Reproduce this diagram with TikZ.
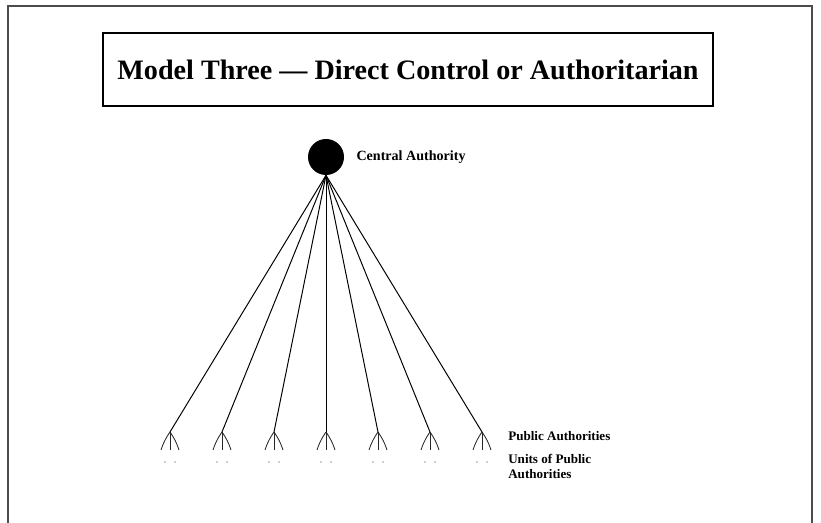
\documentclass[tikz,border=0pt]{standalone}
\usepackage{fontspec}
\setmainfont{Liberation Serif}
\usetikzlibrary{positioning}

\begin{document}
\begin{tikzpicture}[x=0.025cm,y=-0.025cm,
    label text/.style={font=\bfseries\fontsize{9.3}{10.7}\selectfont, inner sep=0pt, anchor=west, align=left},
    fan/.style={line width=0.6pt, black!85}]

  \useasboundingbox (0,0) rectangle (821,523);

  % outer frame
  \draw [line width=1.4pt, black!70] (8,530) -- (8,6) -- (812,6) -- (812,530);

  % title
  \node [draw, line width=1.1pt, minimum width=15.25cm, minimum height=1.825cm,
         font=\bfseries\fontsize{20}{22}\selectfont] (title) at (408,69.5)
        {Model Three --- Direct Control or Authoritarian};

  % central authority
  \node [circle, fill=black, inner sep=0pt, minimum size=0.9cm] (ca) at (326,157) {};
  \node [label text, font=\bfseries\fontsize{10}{12}\selectfont, right=0.3cm of ca] (calabel) {Central Authority};

  % public authorities
  \foreach \i in {1,...,7} {
    \pgfmathsetmacro{\xx}{118+52*\i}
    \coordinate (pa\i) at (\xx,432);
    \draw [line width=0.7pt] (ca.south) -- (pa\i);
    \coordinate (u\i a) at (\xx-9,450);
    \coordinate (u\i b) at (\xx,450);
    \coordinate (u\i c) at (\xx+9,450);
    \draw [fan] (pa\i) to[bend right=8] (u\i a);
    \draw [fan] (pa\i) -- (u\i b);
    \draw [fan] (pa\i) to[bend left=8] (u\i c);
    \fill [black!40] (\xx-5,462) circle (0.6pt) (\xx+5,462) circle (0.6pt);
  }

  \node [label text] (palabel) at (508,436) {Public Authorities};
  \node [label text, anchor=north west] (ulabel) at (508,454) {Units of Public\\Authorities};

\end{tikzpicture}
\end{document}
